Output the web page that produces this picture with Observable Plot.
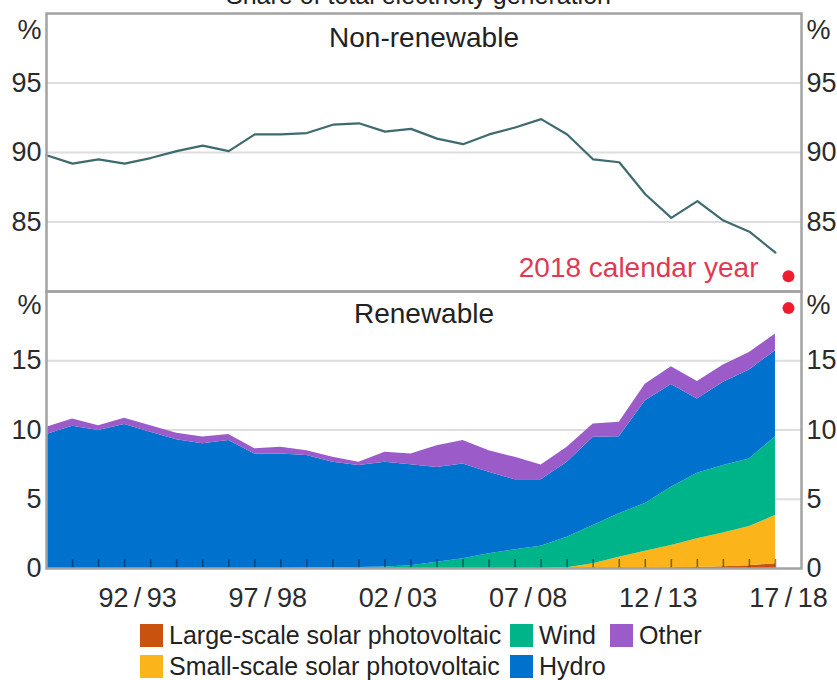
<!DOCTYPE html>
<html>
<head>
<meta charset="utf-8">
<script src="https://cdn.jsdelivr.net/npm/d3@7"></script>
<script src="https://cdn.jsdelivr.net/npm/@observablehq/plot@0.6"></script>
<style>
  body { margin: 0; background: #fff; font-family: "Liberation Sans", Arial, sans-serif; }
  #chart { position: relative; width: 837px; height: 680px; overflow: hidden; background: #fff; }
  #title { position: absolute; left: 0; width: 837px; top: -17px; text-align: center; font-size: 25px; line-height: 25px; color: #222; }
  #top { position: absolute; left: 0; top: 0; }
  #bottom { position: absolute; left: 0; top: 291px; }
  #legend { position: absolute; left: 140px; top: 623px; display: grid; grid-template-columns: 370px 100px auto; row-gap: 6px; font-size: 25px; line-height: 25px; color: #222; }
  .item { display: flex; align-items: center; white-space: nowrap; }
  .sw { width: 23px; height: 23px; margin-right: 6px; flex: none; }
</style>
</head>
<body>
<div id="chart">
  <div id="title"></div>
  <div id="top"></div>
  <div id="bottom"></div>
  <div id="legend"></div>
</div>
<script>
// ---- data ----
const titleText = "Share of total electricity generation";
const years = ["89/90","90/91","91/92","92/93","93/94","94/95","95/96","96/97","97/98","98/99",
               "99/00","00/01","01/02","02/03","03/04","04/05","05/06","06/07","07/08","08/09",
               "09/10","10/11","11/12","12/13","13/14","14/15","15/16","16/17","17/18"];
const nonRenewable = [89.8, 89.2, 89.5, 89.2, 89.6, 90.1, 90.5, 90.1, 91.3, 91.3,
                      91.4, 92.0, 92.1, 91.5, 91.7, 91.0, 90.6, 91.3, 91.8, 92.4,
                      91.3, 89.5, 89.3, 87.0, 85.3, 86.5, 85.1, 84.3, 82.8];
const largeSolar = [0,0,0,0,0,0,0,0,0,0, 0,0,0,0,0,0,0,0,0,0, 0,0,0,0,0.05,0.08,0.12,0.2,0.35];
const smallSolar = [0,0,0,0,0,0,0,0,0,0, 0,0,0,0,0,0,0,0,0,0, 0.05,0.34,0.82,1.25,1.61,2.06,2.45,2.83,3.47];
const wind       = [0,0,0,0,0,0,0,0,0,0, 0.02,0.05,0.08,0.1,0.2,0.46,0.7,1.06,1.35,1.6, 2.21,2.76,3.13,3.45,4.21,4.74,4.86,4.87,5.7];
const hydro      = [9.67,10.27,9.96,10.4,9.84,9.3,9.0,9.24,8.27,8.27, 8.13,7.62,7.35,7.57,7.3,6.84,6.85,5.89,5.05,4.8,
                    5.41,6.38,5.57,7.4,7.41,5.36,6.01,6.43,6.21];
const other      = [0.53,0.53,0.34,0.45,0.46,0.46,0.5,0.43,0.37,0.48, 0.35,0.36,0.24,0.73,0.77,1.57,1.69,1.55,1.63,1.08,
                    1.08,0.96,1.04,1.2,1.29,1.26,1.26,1.27,1.2];
const seriesNames  = ["Large-scale solar photovoltaic", "Small-scale solar photovoltaic", "Wind", "Hydro", "Other"];
const seriesColors = ["#c9520e", "#fbb41a", "#00b48a", "#0072ce", "#9b5bc8"];
const legendOrder  = ["Large-scale solar photovoltaic", "Wind", "Other", "Small-scale solar photovoltaic", "Hydro"];
const xTickLabels  = ["92/93", "97/98", "02/03", "07/08", "12/13", "17/18"];
const topTicks     = [85, 90, 95];
const bottomTicks  = [0, 5, 10, 15];
const panelTitles  = ["Non-renewable", "Renewable"];
const calendar2018 = [{label: "2018 calendar year", period: "2018", nonRenewable: 81.1, renewable: 18.8}];

// ---- styling ----
const FONT = "Liberation Sans, Arial, sans-serif";
const GRID = "#dedede";
const FRAME = "#a3a3a3";
const RED = "#ee1c2e";
const baseStyle = {fontFamily: FONT, fontSize: "27px", color: "#2b2b2b", background: "transparent", overflow: "visible"};
const nYears = years.length;
const xPos = (label) => years.indexOf(label) + 0.5;   // mid-year position
const idx = years.map((_, i) => i);
const fmtPct = (unitPos) => d => d === unitPos ? "%" : d;

document.getElementById("title").textContent = titleText;

// ---- top panel ----
const topUnit = 98.8;
const topPlot = Plot.plot({
  width: 837, height: 292,
  marginTop: 13, marginBottom: 1, marginLeft: 46, marginRight: 36,
  style: baseStyle,
  x: {domain: [0, nYears], axis: null},
  y: {domain: [80, 100]},
  marks: [
    Plot.ruleY(topTicks, {stroke: GRID, strokeWidth: 2}),
    Plot.axisY([...topTicks, topUnit], {anchor: "left", tickSize: 0, tickPadding: 5, tickFormat: fmtPct(topUnit), label: null}),
    Plot.axisY([...topTicks, topUnit], {anchor: "right", tickSize: 0, tickPadding: 5, tickFormat: fmtPct(topUnit), label: null}),
    Plot.lineY(nonRenewable, {x: (d, i) => i, y: d => d, stroke: "#3e6b70", strokeWidth: 2.2}),
    Plot.text([panelTitles[0]], {frameAnchor: "top", dy: 14, fontSize: 28, fill: "#222"}),
    Plot.text(calendar2018, {x: d => xPos(years[nYears - 1]), y: "nonRenewable", text: "label", textAnchor: "end", dx: -30, dy: -8, fontSize: 28, fill: "#e03a52"}),
    Plot.dot(calendar2018, {x: d => xPos(years[nYears - 1]), y: "nonRenewable", r: 6, fill: RED, stroke: "none"}),
    Plot.frame({stroke: FRAME, strokeWidth: 2.5})
  ]
});
document.getElementById("top").appendChild(topPlot);

// ---- bottom panel ----
const seriesValues = [largeSolar, smallSolar, wind, hydro, other];
const long = seriesNames.flatMap((s, k) => seriesValues[k].map((v, i) => ({i, series: s, value: v})));
const bottomUnit = 19;
const bottomPlot = Plot.plot({
  width: 837, height: 322,
  marginTop: 0, marginBottom: 45, marginLeft: 46, marginRight: 36,
  style: baseStyle,
  x: {domain: [0, nYears]},
  y: {domain: [0, 20]},
  color: {domain: seriesNames, range: seriesColors},
  marks: [
    Plot.ruleY(bottomTicks.filter(d => d > 0), {stroke: GRID, strokeWidth: 2}),
    Plot.areaY(long, {x: "i", y: "value", fill: "series", order: seriesNames}),
    Plot.axisX(idx.slice(1), {anchor: "bottom", tickSize: 9, dy: -9, tickFormat: () => "", stroke: "#10203a", strokeOpacity: 0.55, strokeWidth: 1.6, label: null}),
    Plot.axisX(xTickLabels.map(xPos), {anchor: "bottom", tickSize: 0, tickPadding: 19, tickFormat: d => years[Math.floor(d)].replace("/", "\u2009/\u2009"), label: null}),
    Plot.axisY([...bottomTicks, bottomUnit], {anchor: "left", tickSize: 0, tickPadding: 5, tickFormat: fmtPct(bottomUnit), label: null}),
    Plot.axisY([...bottomTicks, bottomUnit], {anchor: "right", tickSize: 0, tickPadding: 5, tickFormat: fmtPct(bottomUnit), label: null}),
    Plot.text([panelTitles[1]], {frameAnchor: "top", dy: 12, fontSize: 28, fill: "#222"}),
    Plot.dot(calendar2018, {x: d => xPos(years[nYears - 1]), y: "renewable", r: 6, fill: RED, stroke: "none"}),
    Plot.frame({stroke: FRAME, strokeWidth: 2.5})
  ]
});
document.getElementById("bottom").appendChild(bottomPlot);

// ---- legend ----
const legend = document.getElementById("legend");
legendOrder.forEach(name => {
  const k = seriesNames.indexOf(name);
  const item = document.createElement("div");
  item.className = "item";
  const sw = document.createElement("span");
  sw.className = "sw";
  sw.style.background = seriesColors[k];
  const label = document.createElement("span");
  label.textContent = name;
  item.appendChild(sw);
  item.appendChild(label);
  legend.appendChild(item);
});
</script>
</body>
</html>
